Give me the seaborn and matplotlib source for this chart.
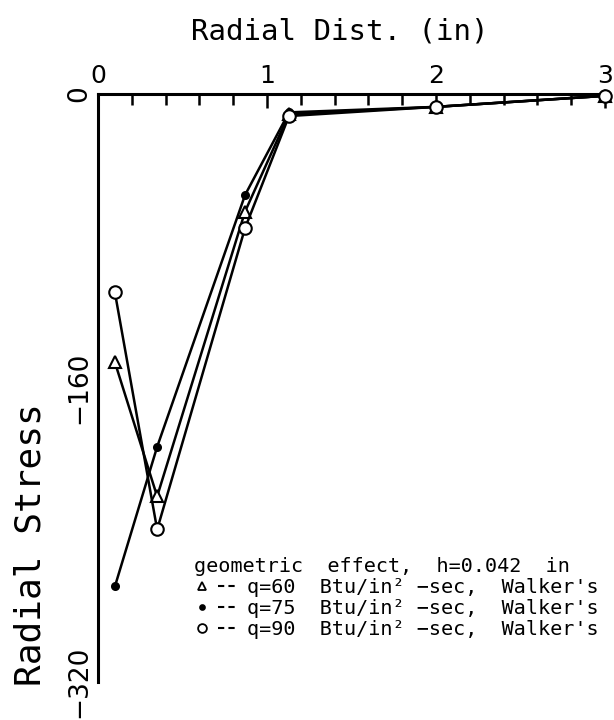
import matplotlib
matplotlib.use("Agg")
import matplotlib.pyplot as plt
import seaborn as sns
import pandas as pd
from matplotlib.lines import Line2D
from matplotlib.legend_handler import HandlerTuple

# ---- data ----
radial_dist = [0.1, 0.35, 0.87, 1.13, 2.0, 3.0]
stress_q60 = [-146, -219, -64, -11, -7, -1]
stress_q75 = [-268, -192, -55, -10, -7, -1]
stress_q90 = [-108, -237, -73, -12, -7, -1]
series_labels = ["q=60  Btu/in\u00b2 \u2212sec,  Walker's",
                 "q=75  Btu/in\u00b2 \u2212sec,  Walker's",
                 "q=90  Btu/in\u00b2 \u2212sec,  Walker's"]
x_ticks = [0, 1, 2, 3]
y_ticks = [0, -160, -320]
legend_title = "geometric  effect,  h=0.042  in"

sns.set_style("white")
plt.rcParams["font.family"] = ["DejaVu Sans"]
MONO = ["DejaVu Sans Mono", "DejaVu Sans"]

df = pd.concat([
    pd.DataFrame({"x": radial_dist, "y": s, "series": lab})
    for s, lab in zip([stress_q60, stress_q75, stress_q90], series_labels)
])

fig = plt.figure(figsize=(6.14, 7.2), dpi=100)
ax = fig.add_axes([98/614, 1-682/720, 507/614, 588/720])

styles = {
    series_labels[0]: dict(marker="^", markersize=8, markerfacecolor="white"),
    series_labels[1]: dict(marker="o", markersize=5, markerfacecolor="black"),
    series_labels[2]: dict(marker="o", markersize=9, markerfacecolor="white"),
}
for lab in series_labels:
    sub = df[df["series"] == lab]
    sns.lineplot(data=sub, x="x", y="y", ax=ax, color="black", linewidth=1.8,
                 markeredgecolor="black", markeredgewidth=1.5, clip_on=False,
                 legend=False, zorder=3, **styles[lab])

ax.set_xlim(0, 3)
ax.set_ylim(-320, 0)

for s in ["right", "bottom"]:
    ax.spines[s].set_visible(False)
for s in ["top", "left"]:
    ax.spines[s].set_linewidth(2.2)
    ax.spines[s].set_color("black")

ax.xaxis.tick_top()
ax.xaxis.set_label_position("top")
ax.set_xticks(x_ticks)
ax.set_xticklabels([str(t) for t in x_ticks])
ax.set_xticks([i * 0.2 for i in range(16)], minor=True)
ax.set_yticks(y_ticks)
ax.set_yticklabels([str(t).replace("-", "\u2212") for t in y_ticks])
ax.set_yticks([-20 * i for i in range(17)], minor=True)

ax.tick_params(axis="both", which="both", direction="in", color="black",
               width=1.8, labelcolor="black")
ax.tick_params(axis="x", which="major", length=10, pad=4, labelsize=18)
ax.tick_params(axis="x", which="minor", length=8)
ax.tick_params(axis="y", which="both", length=11, pad=4, labelsize=19)
ax.tick_params(axis="y", which="major", labelrotation=90)
for lbl in ax.get_yticklabels():
    lbl.set_va("center")

ax.set_xlabel("Radial Dist. (in)", fontsize=21, color="black", family=MONO)
ax.xaxis.set_label_coords(0.477, 1.092)
ax.set_ylabel("Radial Stress", fontsize=26, color="black", family=MONO)
ax.yaxis.set_label_coords(-0.10, 0.233)

handles = []
for lab in series_labels:
    st = styles[lab]
    mk = Line2D([], [], linestyle="none", color="black", markeredgecolor="black",
                markeredgewidth=1.3, marker=st["marker"],
                markersize=st["markersize"] * 0.7,
                markerfacecolor=st["markerfacecolor"])
    dash = Line2D([], [], linestyle=(0, (3, 2)), color="black", linewidth=1.5)
    handles.append((mk, dash))

leg = ax.legend(handles=handles, labels=series_labels, title=legend_title,
                handler_map={tuple: HandlerTuple(ndivide=None, pad=0.4)},
                loc="upper left", bbox_to_anchor=(0.19, 0.213),
                frameon=False, prop={"family": MONO, "size": 14.5},
                alignment="left", handlelength=2.0, handletextpad=0.6,
                labelspacing=0.1, borderpad=0, borderaxespad=0)
leg.get_title().set_fontfamily(MONO)
leg.get_title().set_fontsize(14.5)
for t in leg.get_texts():
    t.set_color("black")
leg.get_title().set_color("black")

fig.savefig("out.png", dpi=100)
